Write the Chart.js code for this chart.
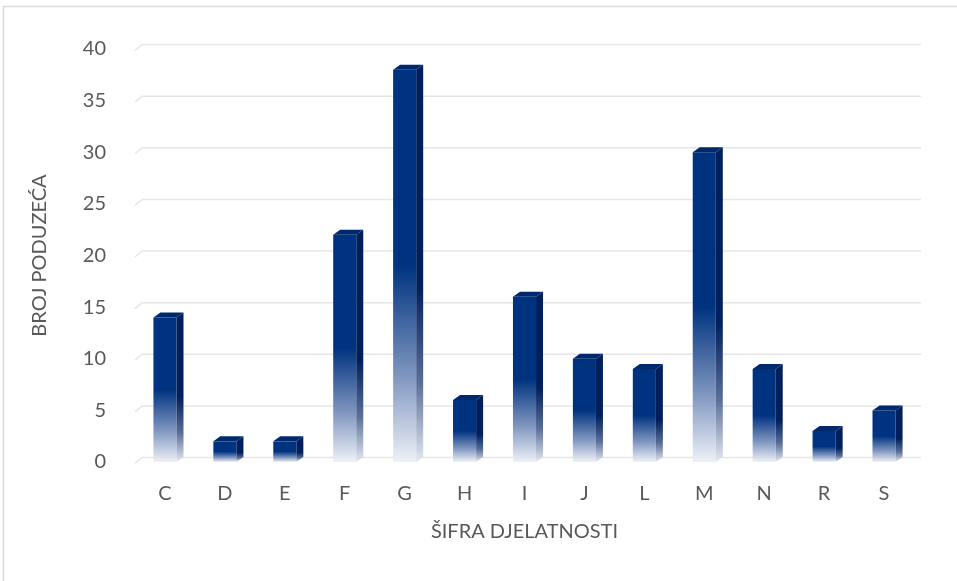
<!DOCTYPE html>
<html>
<head>
<meta charset="utf-8">
<script src="https://cdn.jsdelivr.net/npm/chart.js@4/dist/chart.umd.min.js"></script>
<style>
  html, body { margin: 0; padding: 0; background: #ffffff; }
  #wrap { width: 957px; height: 581px; position: relative; }
</style>
</head>
<body>
<div id="wrap"><canvas id="c" width="957" height="581"></canvas></div>
<script>
// ---- data ----
const categories = ["C", "D", "E", "F", "G", "H", "I", "J", "L", "M", "N", "R", "S"];
const counts = [14, 2, 2, 22, 38, 6, 16, 10, 9, 30, 9, 3, 5];
const yTicks = [0, 5, 10, 15, 20, 25, 30, 35, 40];
const xTitle = "ŠIFRA DJELATNOSTI";
const yTitle = "BROJ PODUZEĆA";

// ---- style ----
const FRONT = "#00337f";
const SIDE = "#001f5c";
const TOP = "#00286c";
const TEXT = "#595959";
const GRID = "#e6e6e6";
const DX = 7, DY = -5;
const FONT = "Lato, 'Open Sans', sans-serif";
const FS = 20;

function frontGradient(context) {
  const chart = context.chart;
  const ys = chart.scales.y;
  if (!ys || context.raw === undefined) return FRONT;
  const top = ys.getPixelForValue(context.raw);
  const base = ys.getPixelForValue(0);
  if (!isFinite(top) || !isFinite(base) || base - top < 1) return FRONT;
  const g = chart.ctx.createLinearGradient(0, top, 0, base);
  g.addColorStop(0, FRONT);
  g.addColorStop(0.5, FRONT);
  g.addColorStop(0.78, "#7f95bf");
  g.addColorStop(1, "#eef1f7");
  return g;
}

const depthPlugin = {
  id: "depth3d",
  beforeDraw(chart) {
    const ctx = chart.ctx;
    ctx.save();
    ctx.fillStyle = "#ffffff";
    ctx.fillRect(0, 0, chart.width, chart.height);
    ctx.strokeStyle = "#d9d9d9";
    ctx.lineWidth = 1.5;
    ctx.beginPath();
    ctx.moveTo(3.5, chart.height);
    ctx.lineTo(3.5, 6.5);
    ctx.lineTo(chart.width, 6.5);
    ctx.stroke();
    ctx.restore();
  },
  beforeDatasetsDraw(chart) {
    const ctx = chart.ctx;
    const ys = chart.scales.y;
    const xs = chart.scales.x;
    ctx.save();
    ctx.strokeStyle = GRID;
    ctx.lineWidth = 1.5;
    yTicks.forEach(v => {
      const y = ys.getPixelForValue(v);
      ctx.beginPath();
      ctx.moveTo(xs.left, y + 1.5);
      ctx.lineTo(xs.left + DX, y + 1.5 + DY - 1);
      ctx.lineTo(xs.right + DX, y + 1.5 + DY - 1);
      ctx.stroke();
    });
    ctx.restore();
  },
  afterDatasetsDraw(chart) {
    const ctx = chart.ctx;
    const meta = chart.getDatasetMeta(0);
    ctx.save();
    meta.data.forEach(el => {
      const p = el.getProps(["x", "y", "base", "width"], true);
      const xl = p.x - p.width / 2, xr = p.x + p.width / 2;
      const top = p.y, base = p.base;
      // side face
      const sg = ctx.createLinearGradient(0, top, 0, base);
      sg.addColorStop(0, SIDE);
      sg.addColorStop(0.55, SIDE);
      sg.addColorStop(0.8, "#5a6f99");
      sg.addColorStop(1, "#e4e8f0");
      ctx.fillStyle = sg;
      ctx.beginPath();
      ctx.moveTo(xr, top);
      ctx.lineTo(xr + DX, top + DY);
      ctx.lineTo(xr + DX, base + DY);
      ctx.lineTo(xr, base);
      ctx.closePath();
      ctx.fill();
      // top face
      ctx.fillStyle = TOP;
      ctx.beginPath();
      ctx.moveTo(xl, top);
      ctx.lineTo(xl + DX, top + DY);
      ctx.lineTo(xr + DX, top + DY);
      ctx.lineTo(xr, top);
      ctx.closePath();
      ctx.fill();
    });
    ctx.restore();
  }
};

new Chart(document.getElementById("c"), {
  type: "bar",
  data: {
    labels: categories,
    datasets: [{
      data: counts,
      backgroundColor: frontGradient,
      borderWidth: 0,
      barPercentage: 0.385,
      categoryPercentage: 1.0
    }]
  },
  options: {
    responsive: false,
    animation: false,
    devicePixelRatio: 1,
    layout: { padding: { top: 49, right: 43, bottom: 20, left: 10 } },
    plugins: { legend: { display: false }, tooltip: { enabled: false } },
    scales: {
      x: {
        grid: { display: false, drawTicks: false },
        border: { display: false },
        ticks: { color: TEXT, font: { family: FONT, size: FS }, padding: 20 },
        title: { display: true, text: xTitle, color: TEXT, font: { family: FONT, size: FS }, padding: { top: 0, bottom: 17 } },
        afterFit(scale) { scale.height = 581 - 20 - 462; }
      },
      y: {
        min: 0, max: 40,
        afterBuildTicks(scale) { scale.ticks = yTicks.map(v => ({ value: v })); },
        grid: { display: false, drawTicks: false },
        border: { display: false },
        ticks: { color: TEXT, font: { family: FONT, size: FS }, padding: 29 },
        title: { display: true, text: yTitle, color: TEXT, font: { family: FONT, size: FS }, padding: { top: 18, bottom: 0 } },
        afterFit(scale) { scale.width = 125; }
      }
    }
  },
  plugins: [depthPlugin]
});
</script>
</body>
</html>
